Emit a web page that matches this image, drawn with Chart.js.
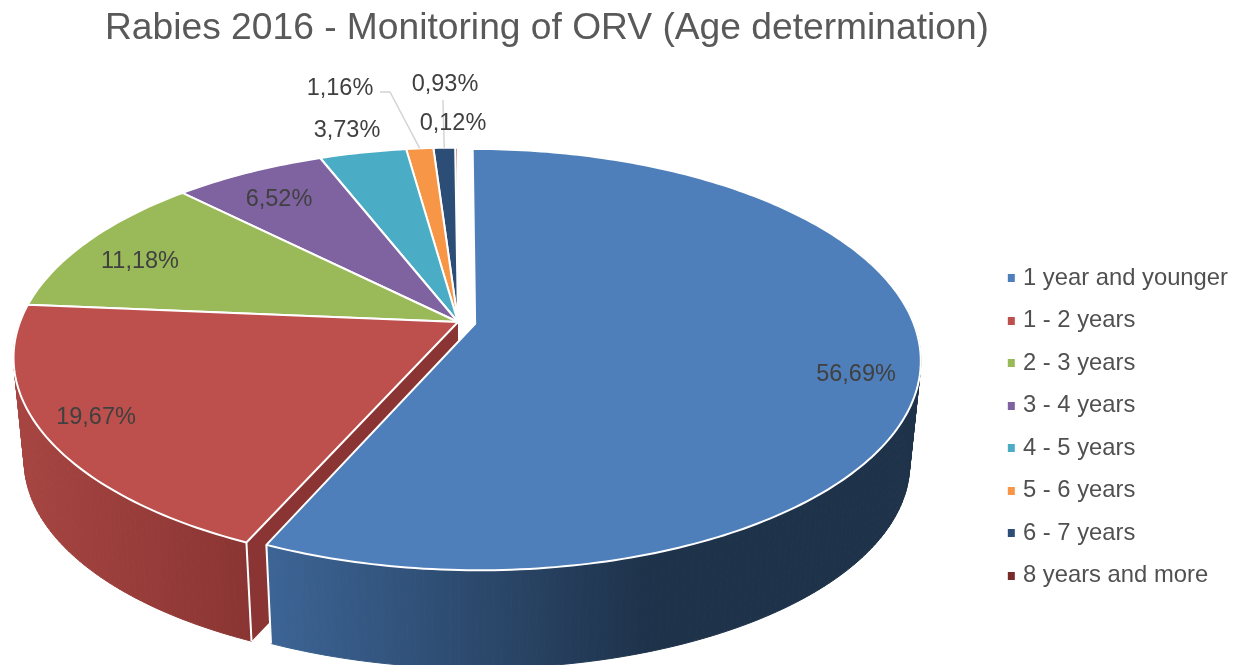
<!DOCTYPE html>
<html>
<head>
<meta charset="utf-8">
<script src="https://cdn.jsdelivr.net/npm/chart.js@4/dist/chart.umd.js"></script>
<style>
html, body { margin: 0; padding: 0; background: #fff; overflow: hidden; }
canvas { display: block; }
</style>
</head>
<body>
<canvas id="chartAge" width="1233" height="665"></canvas>
<script>
const titleText = 'Rabies 2016 - Monitoring of ORV (Age determination)'
const ageLabels = ['1 year and younger', '1 - 2 years', '2 - 3 years', '3 - 4 years', '4 - 5 years', '5 - 6 years', '6 - 7 years', '8 years and more']
const ageValues = [56.69, 19.67, 11.18, 6.52, 3.73, 1.16, 0.93, 0.12]
const sliceColors = ['#4f7fba', '#bd4f4c', '#9aba59', '#7f62a0', '#4bacc6', '#f79646', '#2c4d75', '#c0504d']
const wallColors = [['#3c6495', '#1e324a'], ['#a74542', '#8a3533'], ['#6f8a3e'], ['#5a4672'], ['#357c90'], ['#b56c30'], ['#1e3550'], ['#772c2a']]

// label centres and leader elbows
const labelSpots = [[856, 375], [96, 418], [140, 262], [279, 200], [347, 131], [340, 89], [445, 85], [453, 124]]
const leaderElbows = { 5: [[380, 92], [390, 92]], 6: [[443, 100]] }

// perspective pie, canvas px. explode is a fraction of the radius
const pie = { cx: 458, cy: 322, rx: 438, ry: 204, p: 0.17, depth: 104, shrink: 0.976, explode: 0.04 }

function project(i, a, f, bottom, explodeAngle) {
    let u = Math.cos(a) * f
    let v = Math.sin(a) * f
    if (i === 0) {
        u += pie.explode * Math.cos(explodeAngle)
        v += pie.explode * Math.sin(explodeAngle)
    }
    const s = 1 / (1 - pie.p * v)
    let x = u * pie.rx * s
    let y = v * pie.ry * s
    if (bottom) {
        x *= pie.shrink
        y = y * pie.shrink + pie.depth
    }
    return [pie.cx + x, pie.cy + y]
}

function wallFill(ctx, i) {
    const stops = wallColors[i]
    if (stops.length < 2) return stops[0]
    const range = i === 0 ? [272, 650] : [15, 250]
    const g = ctx.createLinearGradient(range[0], 0, range[1], 0)
    g.addColorStop(0, stops[0])
    g.addColorStop(1, stops[1])
    return g
}

function drawSlice(ctx, i, arc) {
    const a0 = arc.startAngle
    const a1 = arc.endAngle
    const mid = (a0 + a1) / 2
    const steps = Math.max(2, Math.ceil((a1 - a0) * 60))

    // radial faces first, the top hides whatever should not show
    // the exploded slice has none facing the viewer
    if (i !== 0) {
        ctx.fillStyle = i === 1 ? '#8a3533' : wallColors[i][wallColors[i].length - 1]
        ;[a0, a1].forEach(a => {
            const p1 = project(i, a, 1, false, mid), p2 = project(i, a, 1, true, mid)
            const c1 = project(i, a, 0, false, mid), c2 = project(i, a, 0, true, mid)
            ctx.beginPath()
            ctx.moveTo(c1[0], c1[1])
            ctx.lineTo(p1[0], p1[1])
            ctx.lineTo(p2[0], p2[1])
            ctx.lineTo(c2[0], c2[1])
            ctx.closePath()
            ctx.fill()
        })
    }

    // outer wall as a sweep of thin quads, only the part on the viewer's side
    const fill = wallFill(ctx, i)
    ctx.fillStyle = fill
    ctx.strokeStyle = fill
    ctx.lineWidth = 1
    for (let k = 0; k < steps; k++) {
        const b0 = a0 + (a1 - a0) * k / steps
        const b1 = a0 + (a1 - a0) * (k + 1) / steps
        if (Math.sin(b0) < -0.1 && Math.sin(b1) < -0.1) continue
        const q = [project(i, b0, 1, false, mid), project(i, b1, 1, false, mid), project(i, b1, 1, true, mid), project(i, b0, 1, true, mid)]
        ctx.beginPath()
        ctx.moveTo(q[0][0], q[0][1])
        q.slice(1).forEach(p => ctx.lineTo(p[0], p[1]))
        ctx.closePath()
        ctx.fill()
        ctx.stroke()
    }

    // white edge on the front corners of the wall
    ctx.strokeStyle = '#fff'
    ctx.lineWidth = 2
    ;[a0, a1].forEach(a => {
        if (Math.sin(a) <= 0) return
        const p1 = project(i, a, 1, false, mid), p2 = project(i, a, 1, true, mid)
        ctx.beginPath()
        ctx.moveTo(p1[0], p1[1])
        ctx.lineTo(p2[0], p2[1])
        ctx.stroke()
    })

    // top face
    const c = project(i, a0, 0, false, mid)
    ctx.beginPath()
    ctx.moveTo(c[0], c[1])
    for (let k = 0; k <= steps; k++) {
        const p = project(i, a0 + (a1 - a0) * k / steps, 1, false, mid)
        ctx.lineTo(p[0], p[1])
    }
    ctx.closePath()
    ctx.fillStyle = sliceColors[i]
    ctx.fill()
    ctx.strokeStyle = '#fff'
    ctx.lineWidth = 2
    ctx.lineJoin = 'round'
    ctx.stroke()
}

const pie3d = {
    id: 'pie3d',
    beforeDatasetsDraw(chart) {
        const ctx = chart.ctx
        const arcs = chart.getDatasetMeta(0).data
        ctx.save()
        for (let i = arcs.length - 1; i >= 0; i--) {
            drawSlice(ctx, i, arcs[i])
        }
        ctx.restore()
        return false
    },
    afterDraw(chart) {
        const ctx = chart.ctx
        const arcs = chart.getDatasetMeta(0).data
        ctx.save()
        ctx.strokeStyle = '#d4d4d4'
        ctx.lineWidth = 1.5
        Object.keys(leaderElbows).forEach(key => {
            const i = Number(key)
            const mid = (arcs[i].startAngle + arcs[i].endAngle) / 2
            const end = project(i, mid, 1, false, mid)
            const pts = leaderElbows[key]
            ctx.beginPath()
            ctx.moveTo(pts[0][0], pts[0][1])
            pts.slice(1).forEach(p => ctx.lineTo(p[0], p[1]))
            ctx.lineTo(end[0], end[1])
            ctx.stroke()
        })
        ctx.font = '23.5px "Liberation Sans"'
        ctx.fillStyle = '#404040'
        ctx.textAlign = 'center'
        ctx.textBaseline = 'middle'
        ageValues.forEach((v, i) => {
            ctx.fillText(v.toFixed(2).replace('.', ',') + '%', labelSpots[i][0], labelSpots[i][1])
        })
        ctx.restore()
    }
}

// square sits off the canvas centre so it lands close to the legend text
function squareIcon(color) {
    const c = document.createElement('canvas')
    c.width = 12
    c.height = 8
    const g = c.getContext('2d')
    g.fillStyle = color
    g.fillRect(3, 0, 7, 8)
    return c
}

var ctxAge = document.getElementById('chartAge').getContext('2d');
var chartAge = new Chart(ctxAge, {
    type: 'pie',
    data: {
        labels: ageLabels,
        datasets: [{ data: ageValues, backgroundColor: sliceColors }]
    },
    options: {
        responsive: false,
        animation: false,
        layout: { padding: { left: 105, right: -5, top: 6 } },
        plugins: {
            tooltip: { enabled: false },
            title: {
                display: true,
                text: titleText,
                align: 'start',
                color: '#595959',
                font: { family: '"Liberation Sans"', size: 37.2, weight: 'normal' },
                padding: { top: 0, bottom: 138 }
            },
            legend: {
                position: 'right',
                align: 'center',
                fullSize: false,
                labels: {
                    usePointStyle: true,
                    boxWidth: 0.5,
                    boxHeight: 8,
                    padding: 18.7,
                    color: '#505050',
                    font: { family: '"Liberation Sans"', size: 23.8 },
                    generateLabels() {
                        return ageLabels.map((text, i) => ({
                            text: text,
                            fillStyle: sliceColors[i],
                            strokeStyle: sliceColors[i],
                            lineWidth: 0,
                            fontColor: '#505050',
                            pointStyle: squareIcon(i === 7 ? '#772c2a' : sliceColors[i]),
                            hidden: false,
                            index: i
                        }))
                    }
                }
            }
        }
    },
    plugins: [pie3d]
});
</script>
</body>
</html>
